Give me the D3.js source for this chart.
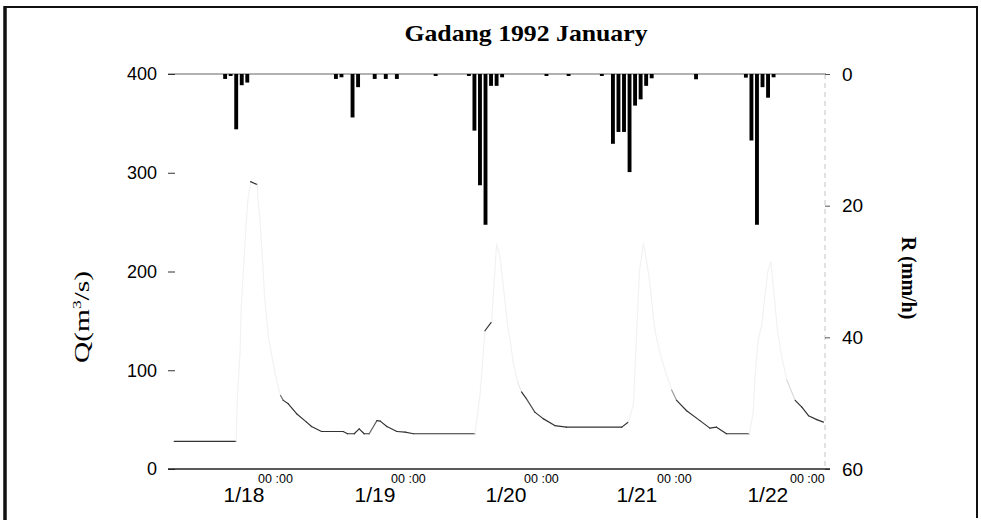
<!DOCTYPE html>
<html><head><meta charset="utf-8">
<script src="https://cdn.jsdelivr.net/npm/d3@7/dist/d3.min.js"></script>
<style>body{margin:0;background:#fff}</style>
</head><body><svg id="c" width="981" height="520"></svg>
<script>
// ---------- data ----------
const chartTitle = "Gadang 1992 January";
const dayLabels = ["1/18", "1/19", "1/20", "1/21", "1/22"];
const dayTickLabel = "00 :00";
const qTicks = [0, 100, 200, 300, 400];
const rTicks = [0, 20, 40, 60];
const xDomainHours = [-18.95, 99.28];          // hours since 1992-01-18 00:00
// hourly rainfall R (mm/h), hours since 1992-01-18 00:00
const rainHours = [-9,-8,-7,-6,-5, 11,12,14,15,18,20,22, 29,35,36,37,38,39,40,41, 49,53,59, 61,62,63,64,65,66,67,68, 76, 85,86,87,88,89,90];
const rainValues = [0.75,0.3,8.4,1.7,1.3, 0.75,0.5,6.6,2.0,0.75,0.75,0.75, 0.3,0.3,8.6,16.9,22.9,1.8,1.8,0.5, 0.3,0.3,0.3, 10.6,8.8,8.8,14.9,4.8,3.85,1.8,0.65, 0.8, 0.55,10.1,22.9,2.0,3.6,0.5];
// discharge Q (m3/s), hours since 1992-01-18 00:00
const qHours = [-18.2,-7.0,-6.8,-6.3,-6.1,-5.2,-4.9,-4.4,-3.2,-3.1,-2.7,-2.5,-2.1,-1.9,-1.2,0.0,0.3,0.7,1.0,1.5,2.4,3.9,5.7,6.6,8.4,12.3,13.1,14.3,15.2,16.1,17.0,18.4,19.0,20.2,22.0,23.5,25.0,36.1,
  37.0,37.9,39.1,39.4,40.0,40.6,41.1,42.1,42.5,43.0,43.8,44.5,45.4,46.9,48.4,50.5,52.6,62.6,
  63.8,64.7,65.3,65.5,65.8,66.5,67.0,67.6,68.3,68.7,69.5,70.4,71.6,72.5,74.3,76.7,78.5,79.7,81.5,85.6,
  86.3,86.6,87.2,87.9,88.4,89.0,89.5,89.9,90.7,91.5,92.4,93.9,95.1,96.3,97.8,99.0];
const qValues = [28,28,72,118,163,249,272,291,288,274,252,233,198,176,134,97,90,80,74.5,69.5,66,56,47.5,43,38,38,35.7,35.7,40.7,35.7,35.7,49,48.5,43,38,37.3,35.7,35.7,
  74.5,140,149,175,228,215,191,140,128.6,108,88,78,71,57.6,51,44,42.4,42.4,
  47.5,66,140,164,201,228,213,191,154,137,117,100,80,69.5,59,49,41.4,42.4,35.7,35.7,
  56,90,130,147,174,201,210,188,140,113,90,69.5,62.7,54,50,47.5];

// ---------- chart ----------
const svg = d3.select("#c");
const base = new Date(1992, 0, 18, 0, 0);
const toDate = h => new Date(base.getTime() + h * 3600e3);
const sans = "Liberation Sans, Arial, sans-serif";
const serif = "Liberation Serif, Times New Roman, serif";

const x = d3.scaleTime().domain(xDomainHours.map(toDate)).range([170, 825]);
const yQ = d3.scaleLinear().domain([0, 400]).range([469, 74]);
const yR = d3.scaleLinear().domain([0, 60]).range([74, 469]);

// frame
svg.append("rect").attr("x", 0).attr("y", 0).attr("width", 981).attr("height", 520).attr("fill", "#fff");
svg.append("line").attr("x1", 5).attr("x2", 5).attr("y1", 6).attr("y2", 520).attr("stroke", "#111").attr("stroke-width", 3.5);
svg.append("line").attr("x1", 4).attr("x2", 978).attr("y1", 7).attr("y2", 7).attr("stroke", "#111").attr("stroke-width", 2);
svg.append("line").attr("x1", 977).attr("x2", 977).attr("y1", 6).attr("y2", 518).attr("stroke", "#111").attr("stroke-width", 2);

// title
svg.append("text").attr("x", 526).attr("y", 41).attr("text-anchor", "middle")
  .attr("font-family", serif).attr("font-weight", "bold").attr("font-size", 24)
  .attr("textLength", 243).attr("lengthAdjust", "spacingAndGlyphs").text(chartTitle);

// rain baseline
svg.append("line").attr("x1", 168).attr("x2", 826).attr("y1", yR(0)).attr("y2", yR(0))
  .attr("stroke", "#666").attr("stroke-width", 1.1);

// right axis dashed domain
svg.append("line").attr("x1", 825).attr("x2", 825).attr("y1", yR(0)).attr("y2", yR(60))
  .attr("stroke", "#c4c4c4").attr("stroke-width", 1).attr("stroke-dasharray", "5,4");

// rain bars
const step = x(toDate(1)) - x(toDate(0));
const barW = step * 0.7;
svg.append("g").selectAll("rect").data(rainHours.map((h, i) => ({ t: toDate(h), v: rainValues[i] })))
  .join("rect")
  .attr("x", d => x(d.t) - barW / 2).attr("y", yR(0))
  .attr("width", barW).attr("height", d => yR(d.v) - yR(0))
  .attr("fill", "#000");

// discharge line, segment by segment (steep parts appear faint as in the scan)
const pts = qHours.map((h, i) => [x(toDate(h)), yQ(qValues[i])]);
const col = d3.interpolateRgb("#333", "#f2f2f2");
const segs = d3.pairs(pts);
svg.append("g").selectAll("line").data(segs).join("line")
  .attr("x1", d => d[0][0]).attr("y1", d => d[0][1])
  .attr("x2", d => d[1][0]).attr("y2", d => d[1][1])
  .attr("stroke", d => {
    const s = Math.abs(d[1][1] - d[0][1]) / Math.max(0.01, Math.abs(d[1][0] - d[0][0]));
    return col(Math.max(0, Math.min(1, (s - 1.4) / 1.2)));
  })
  .attr("stroke-width", 1.2).attr("stroke-linecap", "round");

// left axis
const gL = svg.append("g").attr("transform", "translate(175,0)")
  .call(d3.axisLeft(yQ).tickValues(qTicks).tickSize(7).tickPadding(11));
gL.select(".domain").remove();
gL.selectAll(".tick line").attr("stroke", "#333");
gL.selectAll("text").attr("font-family", sans).attr("font-size", 18).attr("fill", "#000");

// right axis
const gR = svg.append("g").attr("transform", "translate(825,0)")
  .call(d3.axisRight(yR).tickValues(rTicks).tickSize(5).tickPadding(12));
gR.select(".domain").remove();
gR.selectAll(".tick line").attr("stroke", "#555");
gR.selectAll("text").attr("font-family", sans).attr("font-size", 19).attr("fill", "#000");

// bottom axis
const dayTicks = dayLabels.map((d, i) => toDate(24 * i));
svg.append("line").attr("x1", 168).attr("x2", 830).attr("y1", 469).attr("y2", 469)
  .attr("stroke", "#222").attr("stroke-width", 1.5);
const gB = svg.append("g").attr("transform", "translate(0,469)")
  .call(d3.axisBottom(x).tickValues(dayTicks).tickSize(0).tickPadding(5.6).tickFormat(() => dayTickLabel));
gB.select(".domain").remove();
gB.selectAll("text").attr("font-family", sans).attr("font-size", 12.5).attr("fill", "#000");
svg.append("g").selectAll("text").data(dayTicks).join("text")
  .attr("x", (d, i) => x(d) - 31 - 2 * i).attr("y", 501.5).attr("text-anchor", "middle")
  .attr("font-family", sans).attr("font-size", 21).attr("fill", "#000")
  .text((d, i) => dayLabels[i]);

// axis titles
const qt = svg.append("text").attr("transform", "translate(89,317) rotate(-90)")
  .attr("text-anchor", "middle").attr("font-family", serif).attr("font-size", 22)
  .attr("textLength", 92).attr("lengthAdjust", "spacingAndGlyphs");
qt.append("tspan").text("Q(m");
qt.append("tspan").attr("font-size", 13).attr("dy", -8).text("3");
qt.append("tspan").attr("dy", 8).text("/s)");

svg.append("text").attr("transform", "translate(902,278) rotate(90)")
  .attr("text-anchor", "middle").attr("font-family", serif).attr("font-weight", "bold").attr("font-size", 20)
  .text("R (mm/h)");
</script></body></html>
